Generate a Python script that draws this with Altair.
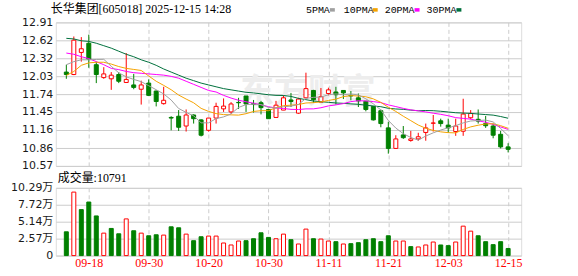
import altair as alt
import pandas as pd

# ---------------- data ----------------
dates = ["09-15", "09-16", "09-17", "09-18", "09-19", "09-22", "09-23", "09-24", "09-25", "09-26",
         "09-29", "09-30", "10-09", "10-10", "10-13", "10-14", "10-15", "10-16", "10-17", "10-20",
         "10-21", "10-22", "10-23", "10-24", "10-27", "10-28", "10-29", "10-30", "10-31", "11-03",
         "11-04", "11-05", "11-06", "11-07", "11-10", "11-11", "11-12", "11-13", "11-14", "11-17",
         "11-18", "11-19", "11-20", "11-21", "11-24", "11-25", "11-26", "11-27", "11-28", "12-01",
         "12-02", "12-03", "12-04", "12-05", "12-08", "12-09", "12-10", "12-11", "12-12", "12-15"]

opens = [12.10, 12.06, 12.42, 12.57, 12.22, 12.01, 11.99, 12.06, 11.93, 11.89,
         11.82, 11.92, 11.79, 11.585, 11.36, 11.38, 11.22, 11.40, 11.32, 11.15,
         11.35, 11.50, 11.45, 11.605, 11.71, 11.585, 11.60, 11.49, 11.36, 11.48,
         11.645, 11.43, 11.68, 11.80, 11.61, 11.75, 11.775, 11.80, 11.72, 11.68,
         11.625, 11.54, 11.47, 11.19, 10.855, 11.075, 10.985, 11.01, 11.115, 11.265,
         11.305, 11.235, 11.13, 11.135, 11.355, 11.33, 11.26, 11.22, 11.085, 10.88]
closes = [12.06, 12.62, 12.48, 12.31, 12.06, 12.07, 12.05, 11.95, 11.98, 11.85,
          11.89, 11.72, 11.62, 11.64, 11.35, 11.20, 11.40, 11.34, 11.07, 11.35,
          11.54, 11.545, 11.58, 11.60, 11.58, 11.575, 11.52, 11.34, 11.56, 11.68,
          11.62, 11.66, 11.83, 11.65, 11.70, 11.81, 11.73, 11.76, 11.71, 11.63,
          11.49, 11.32, 11.26, 10.855, 11.01, 11.03, 11.01, 11.045, 11.19, 11.27,
          11.26, 11.19, 11.22, 11.415, 11.425, 11.30, 11.225, 11.07, 10.88, 10.84]
highs = [12.22, 12.68, 12.67, 12.71, 12.27, 12.18, 12.10, 12.10, 12.41, 12.07,
         11.96, 11.98, 11.80, 11.86, 11.38, 11.48, 11.49, 11.41, 11.33, 11.35,
         11.60, 11.67, 11.61, 11.68, 11.71, 11.645, 11.63, 11.49, 11.63, 11.72,
         11.76, 11.68, 12.09, 11.81, 11.84, 11.845, 11.86, 11.80, 11.79, 11.75,
         11.625, 11.54, 11.49, 11.29, 11.07, 11.22, 11.14, 11.11, 11.26, 11.40,
         11.34, 11.34, 11.34, 11.665, 11.48, 11.49, 11.385, 11.26, 11.14, 10.94]
lows = [11.99, 12.05, 12.27, 12.17, 11.92, 11.99, 11.81, 11.92, 11.93, 11.82,
        11.57, 11.71, 11.54, 11.57, 11.15, 11.14, 11.13, 11.26, 11.05, 11.13,
        11.26, 11.45, 11.42, 11.50, 11.45, 11.44, 11.41, 11.34, 11.36, 11.48,
        11.53, 11.42, 11.68, 11.60, 11.61, 11.72, 11.57, 11.66, 11.64, 11.53,
        11.46, 11.31, 11.20, 10.77, 10.85, 11.01, 10.965, 10.98, 10.98, 11.13,
        11.21, 11.11, 11.06, 11.06, 11.33, 11.26, 11.19, 11.02, 10.855, 10.79]
volumes = [36100, 96400, 69800, 81300, 60200, 34100, 41200, 33100, 55700, 37700,
           34100, 30100, 31600, 31100, 43700, 42200, 32600, 22600, 28600, 29600,
           29600, 19100, 16100, 22100, 22600, 25600, 34600, 27600, 25600, 32600,
           24100, 17600, 40200, 25600, 25100, 22100, 21100, 17600, 18100, 19600,
           24100, 25600, 21100, 30100, 22100, 22100, 13600, 13100, 16100, 20600,
           16100, 15100, 20600, 44700, 37100, 30100, 21100, 16600, 21100, 10791]
ma5 = [12.22, 12.27, 12.30, 12.30, 12.306, 12.308, 12.194, 12.088, 12.022, 11.98,
       11.944, 11.878, 11.812, 11.744, 11.644, 11.506, 11.442, 11.386, 11.272, 11.272,
       11.34, 11.369, 11.417, 11.523, 11.569, 11.576, 11.571, 11.523, 11.513, 11.535,
       11.544, 11.572, 11.67, 11.688, 11.692, 11.73, 11.744, 11.73, 11.742, 11.728,
       11.664, 11.582, 11.482, 11.311, 11.187, 11.095, 11.033, 10.99, 11.057, 11.109,
       11.155, 11.191, 11.226, 11.271, 11.302, 11.31, 11.317, 11.287, 11.18, 11.063]
ma10 = [12.045, 12.11, 12.21, 12.25, 12.26, 12.26, 12.23, 12.19, 12.16, 12.143,
        12.126, 12.036, 11.95, 11.883, 11.812, 11.725, 11.66, 11.599, 11.508, 11.458,
        11.423, 11.406, 11.402, 11.398, 11.421, 11.458, 11.47, 11.47, 11.519, 11.552,
        11.56, 11.571, 11.596, 11.601, 11.613, 11.637, 11.658, 11.70, 11.715, 11.71,
        11.697, 11.663, 11.606, 11.527, 11.458, 11.38, 11.308, 11.236, 11.184, 11.148,
        11.125, 11.112, 11.108, 11.164, 11.206, 11.233, 11.254, 11.257, 11.226, 11.183]
ma20 = [12.41, 12.39, 12.35, 12.32, 12.27, 12.22, 12.16, 12.14, 12.11, 12.09,
        12.08, 12.07, 12.06, 12.05, 12.03, 12.00, 11.95, 11.90, 11.85, 11.80,
        11.775, 11.72, 11.676, 11.64, 11.616, 11.592, 11.566, 11.535, 11.514, 11.506,
        11.492, 11.489, 11.50, 11.50, 11.518, 11.548, 11.565, 11.586, 11.618, 11.632,
        11.629, 11.618, 11.602, 11.565, 11.537, 11.508, 11.483, 11.468, 11.45, 11.429,
        11.411, 11.388, 11.357, 11.345, 11.332, 11.306, 11.281, 11.246, 11.205, 11.165]
ma30 = [12.65, 12.64, 12.61, 12.60, 12.57, 12.53, 12.49, 12.44, 12.39, 12.35,
        12.30, 12.26, 12.21, 12.15, 12.10, 12.05, 12.00, 11.96, 11.92, 11.89,
        11.86, 11.83, 11.81, 11.79, 11.77, 11.76, 11.745, 11.73, 11.72, 11.718,
        11.703, 11.671, 11.65, 11.628, 11.616, 11.607, 11.596, 11.59, 11.581, 11.574,
        11.56, 11.547, 11.535, 11.509, 11.498, 11.492, 11.479, 11.469, 11.473, 11.47,
        11.461, 11.449, 11.437, 11.431, 11.426, 11.416, 11.407, 11.398, 11.375, 11.347]
prev_close_first = 12.15

x_tick_dates = ["09-18", "09-30", "10-20", "10-30", "11-11", "11-21", "12-03", "12-15"]
price_ticks = [12.91, 12.62, 12.32, 12.03, 11.74, 11.45, 11.16, 10.86, 10.57]
vol_ticks = [0, 25725, 51450, 77175, 102900]
vol_tick_labels = ["0", "2.57万", "5.14万", "7.72万", "10.29万"]

title_text = "长华集团[605018] 2025-12-15 14:28"
vol_text = "成交量:10791"
ma_names = ["5PMA", "10PMA", "20PMA", "30PMA"]
ma_colors = ["#a0a0a0", "#f5a300", "#ff00ff", "#00703c"]

# ---------------- table ----------------
n = len(dates)
prev = [prev_close_first] + closes[:-1]
df = pd.DataFrame({
    "idx": list(range(n)), "date": dates, "open": opens, "close": closes,
    "high": highs, "low": lows, "vol": volumes,
    "ma5": ma5, "ma10": ma10, "ma20": ma20, "ma30": ma30,
})
df["dir"] = ["up" if c > o else "down" for o, c in zip(opens, closes)]
df["vdir"] = ["up" if c >= p else "down" for c, p in zip(closes, prev)]

RED = "#ff0000"
GREEN = "#008000"
GRID = "#cccccc"
LABEL_FONT = "DejaVu Sans, Noto Sans CJK SC"
SERIF = "Liberation Serif, Noto Sans CJK SC"

W, H_P, GAP, H_V = 467, 144, 22, 68
LEFT, TOP, TOTAL_W = 55, 21, 578

tick_idx = [dates.index(d) for d in x_tick_dates]
x_scale = alt.Scale(domain=[-0.74, 60.08], nice=False, zero=False)

x_axis_top = alt.Axis(values=tick_idx, labels=False, ticks=False, domain=False, grid=True,
                      gridDash=[4, 3], gridColor=GRID, title=None)
x_label_expr = "[" + ",".join("'%s'" % d for d in x_tick_dates) + "][indexof([" + \
    ",".join(str(i) for i in tick_idx) + "], datum.value)]"
x_axis_bot = alt.Axis(values=tick_idx, labelExpr=x_label_expr, ticks=False, domain=False, grid=True,
                      gridDash=[4, 3], gridColor=GRID, title=None, labelColor=RED,
                      labelFont=SERIF, labelFontSize=12, labelPadding=2,
                      labelFlush=False, labelOverlap=False)

p_scale = alt.Scale(domain=[10.57, 12.91], nice=False, zero=False)
p_axis = alt.Axis(values=price_ticks, format=".2f", ticks=False, domain=False, grid=True,
                  gridColor=GRID, title=None, labelFont=LABEL_FONT, labelFontSize=11,
                  labelColor="#1a1a1a", labelPadding=3, labelOverlap=False, labelFlush=False)

stroke_enc = alt.Stroke("dir:N", scale=alt.Scale(domain=["up", "down"], range=[RED, GREEN]), legend=None)
fill_enc = alt.Fill("dir:N", scale=alt.Scale(domain=["up", "down"], range=["#ffffff", GREEN]), legend=None)

X = alt.X("idx:Q", scale=x_scale, axis=x_axis_top)

base = alt.Chart(df)

# invisible frame that pins the page's top-left corner
anchor = alt.Chart(pd.DataFrame({"a": [0]})).mark_rect(opacity=0).encode(
    x=alt.value(-LEFT), x2=alt.value(TOTAL_W - LEFT), y=alt.value(-TOP), y2=alt.value(0))

watermark = alt.Chart(pd.DataFrame({"t": ["东方财富"]})).mark_text(
    font="Noto Sans CJK SC", fontSize=34, fontWeight="bold", color="#ededed",
    align="center", baseline="middle").encode(x=alt.value(253), y=alt.value(71), text="t:N")

wicks = base.mark_rule(strokeWidth=1).encode(
    x=X, y=alt.Y("low:Q", scale=p_scale, axis=p_axis), y2="high:Q", stroke=stroke_enc)

bodies = base.mark_bar(size=4, strokeWidth=1).encode(
    x=X, y=alt.Y("open:Q", scale=p_scale, axis=p_axis), y2="close:Q",
    fill=fill_enc, stroke=stroke_enc)

ma_layers = []
for col, color in zip(["ma30", "ma20", "ma10", "ma5"], ma_colors[::-1]):
    ma_layers.append(base.mark_line(strokeWidth=1, color=color).encode(
        x=X, y=alt.Y(col + ":Q", scale=p_scale, axis=p_axis)))

title_mark = alt.Chart(pd.DataFrame({"t": [title_text]})).mark_text(
    font=SERIF, fontSize=12, color="#000000", align="left", baseline="middle").encode(
    x=alt.value(-5), y=alt.value(-13.5), text="t:N")

legend_text_x = [251, 289, 330, 372]
legend_box_x = [275, 318, 360, 402]
legend_layers = []
for name, color, tx, bx in zip(ma_names, ma_colors, legend_text_x, legend_box_x):
    legend_layers.append(alt.Chart(pd.DataFrame({"t": [name]})).mark_text(
        font="Liberation Mono", fontSize=10, color="#000000", align="left", baseline="middle").encode(
        x=alt.value(tx), y=alt.value(-12.5), text="t:N"))
    legend_layers.append(alt.Chart(pd.DataFrame({"t": [name]})).mark_rect(color=color).encode(
        x=alt.value(bx), x2=alt.value(bx + 5), y=alt.value(-14.3), y2=alt.value(-10.8)))

price = alt.layer(anchor, watermark, wicks, bodies, *ma_layers, title_mark, *legend_layers).properties(
    width=W, height=H_P)

# ---------------- volume ----------------
v_label_expr = "[" + ",".join("'%s'" % s for s in vol_tick_labels) + "][indexof([" + \
    ",".join(str(v) for v in vol_ticks) + "], datum.value)]"
v_axis = alt.Axis(values=vol_ticks, labelExpr=v_label_expr, ticks=False, domain=False, grid=True,
                  gridColor=GRID, title=None, labelFont=LABEL_FONT, labelFontSize=11,
                  labelColor="#1a1a1a", labelPadding=3, labelOverlap=False, labelFlush=False)
v_stroke = alt.Stroke("vdir:N", scale=alt.Scale(domain=["up", "down"], range=[RED, GREEN]), legend=None)
v_fill = alt.Fill("vdir:N", scale=alt.Scale(domain=["up", "down"], range=["#ffffff", GREEN]), legend=None)

vbars = base.mark_bar(size=4, strokeWidth=1).encode(
    x=alt.X("idx:Q", scale=x_scale, axis=x_axis_bot),
    y=alt.Y("vol:Q", scale=alt.Scale(domain=[0, 102900], nice=False, zero=True), axis=v_axis),
    fill=v_fill, stroke=v_stroke)

vol_title = alt.Chart(pd.DataFrame({"t": [vol_text]})).mark_text(
    font=SERIF, fontSize=12, color="#000000", align="left", baseline="middle").encode(
    x=alt.value(2), y=alt.value(-10), text="t:N")

volume = alt.layer(vbars, vol_title).properties(width=W, height=H_V)

chart = alt.vconcat(price, volume, spacing=GAP, bounds="flush").properties(
    padding={"left": 0, "top": 0, "right": 0, "bottom": 0}
).configure_view(stroke="#999999", strokeWidth=2).configure(background="#ffffff")

chart.save("out.html", embed_options={"renderer": "svg", "actions": False})
